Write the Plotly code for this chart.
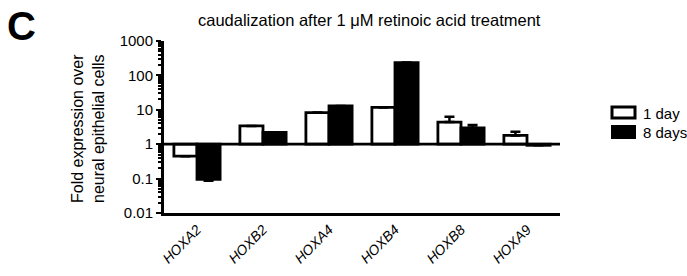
import plotly.graph_objects as go

genes = ["HOXA2", "HOXB2", "HOXA4", "HOXB4", "HOXB8", "HOXA9"]
day1 = [0.45, 3.4, 8.3, 11.7, 4.4, 1.8]
day8 = [0.095, 2.2, 13.0, 236.0, 3.0, 0.93]
day1_err_up = [0, 0, 0, 0, 1.9, 0.5]
day1_err_down = [0, 0, 0, 0, 0, 0]
day8_err_up = [0, 0, 0, 0, 0.6, 0]
day8_err_down = [0.008, 0, 0, 0, 0, 0]
series_names = ["1 day", "8 days"]

baseline = 1.0
labels = [f"<i>{g}</i>" for g in genes]

FONT = "Liberation Sans, Arial, sans-serif"

L, R, T, B = 164, 127, 41, 63
W, H = 687, 276
PW, PH = W - L - R, H - T - B


def px(x):
    return (x - L) / PW


def py(y):
    return (H - B - y) / PH


fig = go.Figure()
fig.add_trace(go.Bar(
    x=labels, y=[v - baseline for v in day1], base=baseline, name=series_names[0],
    marker=dict(color="white", line=dict(color="black", width=2.8)),
    error_y=dict(type="data", symmetric=False, array=day1_err_up, arrayminus=day1_err_down,
                 color="black", thickness=2.5, width=5),
))
fig.add_trace(go.Bar(
    x=labels, y=[v - baseline for v in day8], base=baseline, name=series_names[1],
    marker=dict(color="black", line=dict(color="black", width=2.8)),
    error_y=dict(type="data", symmetric=False, array=day8_err_up, arrayminus=day8_err_down,
                 color="black", thickness=2.5, width=5),
))

fig.add_shape(type="line", xref="paper", yref="y", x0=0, x1=1, y0=baseline, y1=baseline,
              line=dict(color="black", width=2.8), layer="above")

# custom legend
fig.add_shape(type="rect", xref="paper", yref="paper", x0=px(612), x1=px(635), y0=py(118), y1=py(107),
              fillcolor="white", line=dict(color="black", width=3))
fig.add_shape(type="rect", xref="paper", yref="paper", x0=px(611), x1=px(636), y0=py(139), y1=py(125),
              fillcolor="black", line=dict(color="black", width=0))

fig.update_layout(
    width=W, height=H,
    margin=dict(l=L, r=R, t=T, b=B),
    paper_bgcolor="white", plot_bgcolor="white",
    barmode="group", bargap=0.3, bargroupgap=0,
    font=dict(family=FONT, color="black", size=13),
    showlegend=False,
    annotations=[
        dict(text="<b>C</b>", xref="paper", yref="paper", x=px(5), y=py(26),
             xanchor="left", yanchor="middle", showarrow=False,
             font=dict(size=40, family=FONT, color="black")),
        dict(text="caudalization after 1 μM retinoic acid treatment", xref="paper", yref="paper",
             x=px(369), y=py(20), xanchor="center", yanchor="middle", showarrow=False,
             font=dict(size=16.5, family=FONT, color="black")),
        dict(text="Fold expression over<br>neural epithelial cells", xref="paper", yref="paper",
             x=px(88), y=py(129), xanchor="center", yanchor="middle", textangle=-90, showarrow=False,
             font=dict(size=16, family=FONT, color="black")),
        dict(text=series_names[0], xref="paper", yref="paper", x=px(641), y=py(113),
             xanchor="left", yanchor="middle", showarrow=False,
             font=dict(size=15, family=FONT, color="black")),
        dict(text=series_names[1], xref="paper", yref="paper", x=px(641), y=py(132),
             xanchor="left", yanchor="middle", showarrow=False,
             font=dict(size=15, family=FONT, color="black")),
    ],
)

fig.update_xaxes(
    showline=True, linecolor="black", linewidth=3, ticks="", tickangle=-45,
    tickfont=dict(size=14, family=FONT, color="black"), showgrid=False, zeroline=False,
    automargin=False,
)
fig.update_yaxes(
    type="log", range=[-2, 3], showline=True, linecolor="black", linewidth=3,
    ticks="outside", ticklen=5, tickwidth=2, tickcolor="black",
    tickvals=[0.01, 0.1, 1, 10, 100, 1000], ticktext=["0.01", "0.1", "1", "10", "100", "1000"],
    minor=dict(ticks="outside", ticklen=3, tickwidth=1.5, tickcolor="black", dtick="D1", showgrid=False),
    showgrid=False, zeroline=False, tickfont=dict(size=15, family=FONT, color="black"),
    automargin=False,
)

fig.write_html("out.html", config={"displayModeBar": False},
               post_script="document.body.style.margin='0px';document.body.style.overflow='hidden';")
